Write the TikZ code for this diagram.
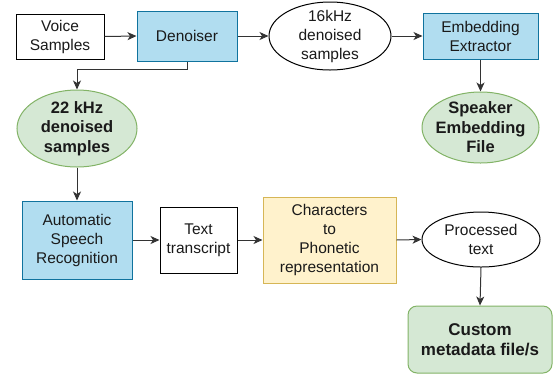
\documentclass[tikz,border=0pt]{standalone}
\usepackage{fontspec}
\setmainfont{Liberation Sans}
\usetikzlibrary{arrows.meta,shapes.geometric}
\definecolor{bluefill}{HTML}{B1DDF0}
\definecolor{bluedraw}{HTML}{10739E}
\definecolor{greenfill}{HTML}{D5E8D4}
\definecolor{greendraw}{HTML}{82B366}
\definecolor{yellowfill}{HTML}{FFF2CC}
\definecolor{yellowdraw}{HTML}{D6B656}
\definecolor{txt}{HTML}{1A1A1A}
\definecolor{edge}{HTML}{333333}
\begin{document}
\begin{tikzpicture}[x=1pt,y=-1pt,
  every node/.style={font=\fontsize{15.5}{19}\selectfont, text=txt, align=center},
  box/.style={draw=black, line width=1pt, fill=white, rectangle, inner sep=0pt},
  bluebox/.style={draw=bluedraw, line width=1pt, fill=bluefill, rectangle, inner sep=0pt},
  yelbox/.style={draw=yellowdraw, line width=1pt, fill=yellowfill, rectangle, inner sep=0pt},
  ell/.style={draw=black, line width=1pt, fill=white, ellipse, inner sep=0pt},
  gell/.style={draw=greendraw, line width=1pt, fill=greenfill, ellipse, inner sep=0pt},
  lbl/.style={inner sep=0pt},
  blbl/.style={inner sep=0pt, font=\fontsize{16.5}{19.5}\selectfont\bfseries},
  conn/.style={draw=edge, line width=1pt, -{Stealth[length=9pt,width=8pt,inset=2.5pt]}}
]
\useasboundingbox (0,0) rectangle (553,373);
% top row
\node[box, minimum width=88pt, minimum height=45pt] (voice) at (60,36.5) {Voice\\Samples};
\node[bluebox, minimum width=100pt, minimum height=50pt] (den) at (187,36) {Denoiser};
\node[ell, minimum width=122pt, minimum height=68pt] (s16) at (330,36) {};
\node[lbl] (s16t) at (s16.center) {16kHz\\denoised\\samples};
\node[bluebox, minimum width=115pt, minimum height=46pt] (emb) at (480.5,36) {Embedding\\Extractor};
\node[gell, minimum width=117pt, minimum height=71pt] (spk) at (480.5,127.5) {};
\node[blbl] (spkt) at (spk.center) {Speaker\\Embedding\\File};
% left ellipse
\node[gell, minimum width=120pt, minimum height=77pt] (s22) at (77,128.5) {};
\node[blbl] (s22t) at (s22.center) {22 kHz\\denoised\\samples};
% bottom row
\node[bluebox, minimum width=110pt, minimum height=78pt] (asr) at (77,240) {Automatic\\Speech\\Recognition};
\node[box, minimum width=77pt, minimum height=66pt] (tt) at (198.5,240) {Text\\transcript};
\node[yelbox, minimum width=133pt, minimum height=86pt] (chr) at (329.5,240) {Characters\\to\\Phonetic\\representation};
\node[ell, minimum width=118pt, minimum height=55pt] (proc) at (481,239.5) {};
\node[lbl] (proct) at (proc.center) {Processed\\text};
\node[draw=greendraw, line width=1pt, fill=greenfill, rectangle, rounded corners=9pt, inner sep=0pt,
      minimum width=144pt, minimum height=67pt, font=\fontsize{17}{20}\selectfont\bfseries] (cust) at (480,339.5) {Custom\\metadata file/s};
% connectors
\draw[conn] (voice.east) -- (den.west);
\draw[conn] (den.east) -- (s16.west);
\draw[conn] (s16.east) -- (emb.west);
\draw[conn] (emb.south) -- (spk.north);
\coordinate (c1) at (187,69);
\coordinate (c2) at (77,69);
\draw[conn] (den.south) -- (c1) -- (c2) -- (s22.north);
\draw[conn] (s22.south) -- (asr.north);
\draw[conn] (asr.east) -- (tt.west);
\draw[conn] (tt.east) -- (chr.west);
\draw[conn] (chr.east) -- (proc.west);
\draw[conn] (proc.south) -- (cust.north);
\end{tikzpicture}
\end{document}
